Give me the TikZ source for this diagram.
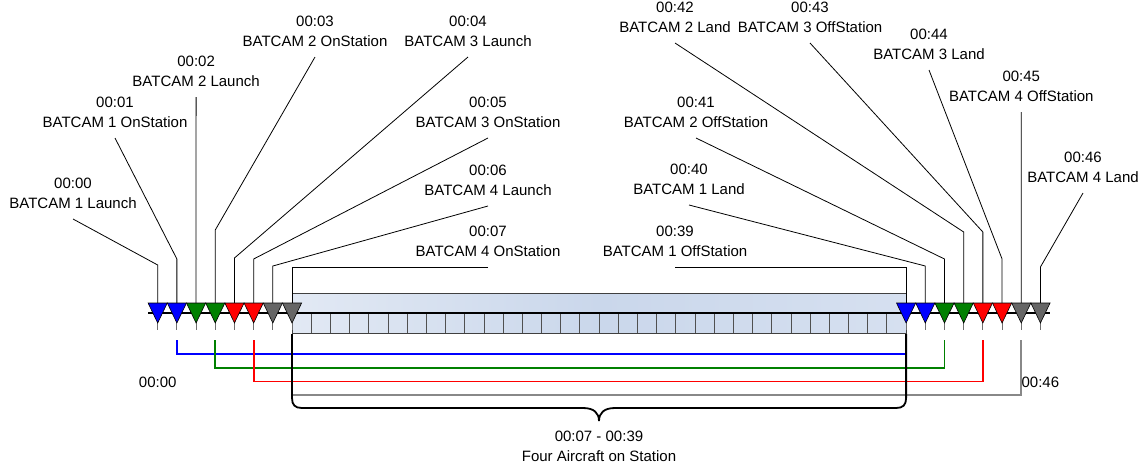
\documentclass[tikz,border=0pt]{standalone}
\usepackage{fontspec}
\setmainfont{Liberation Sans}
\usetikzlibrary{calc}
\definecolor{mblue}{RGB}{0,0,255}
\definecolor{mgreen}{RGB}{0,128,0}
\definecolor{mred}{RGB}{255,0,0}
\definecolor{mgray}{RGB}{102,102,102}
\definecolor{lgray}{RGB}{136,136,136}
\definecolor{tickgray}{RGB}{110,110,110}
\definecolor{barA}{RGB}{226,233,244}
\definecolor{barB}{RGB}{202,215,235}
\definecolor{barC}{RGB}{214,224,240}
\definecolor{cellline}{RGB}{80,80,80}
\begin{document}
\begin{tikzpicture}[x=1pt,y=-1pt,
  lbl/.style={font=\fontsize{15}{19.7}\selectfont, align=center, inner sep=0pt, outer sep=5pt, anchor=south},
  plain/.style={font=\fontsize{15}{19.7}\selectfont, align=center, inner sep=0pt},
  leader/.style={draw=black, line width=0.8pt},
  tickln/.style={draw=tickgray, line width=0.8pt},
  tri/.style={draw=black, line width=0.6pt},
  conn/.style={line width=1.8pt},
  bracestyle/.style={draw=black, line width=1.8pt}]
\useasboundingbox (0,0) rectangle (1144,467);

% marker coordinates (top centre of each triangle)
\foreach \m in {0,1,2,3,4,5,6,7,39,40,41,42,43,44,45,46}{
  \pgfmathsetmacro\xx{157.7+19.19*\m}
  \coordinate (m\m) at (\xx,303);
}

% bar
\shade[left color=barA, right color=barC, middle color=barB] (292,293) rectangle (906.1,333);
\foreach \i in {1,...,31}{
  \draw[draw=cellline, line width=0.8pt] ({292+19.19*\i},313) -- ++(0,20);
}
\draw[draw=black!75, line width=0.8pt] (292,293) rectangle (906.1,333);

% labels
\node[lbl] (l0) at (73,219) {00:00\\BATCAM 1 Launch\strut};
\node[lbl] (l1) at (115,138) {00:01\\BATCAM 1 OnStation\strut};
\node[lbl] (l2) at (196.1,97) {00:02\\BATCAM 2 Launch\strut};
\node[lbl] (l3) at (315,57) {00:03\\BATCAM 2 OnStation\strut};
\node[lbl] (l4) at (468,57) {00:04\\BATCAM 3 Launch\strut};
\node[lbl] (l5) at (488,138) {00:05\\BATCAM 3 OnStation\strut};
\node[lbl] (l6) at (488,206) {00:06\\BATCAM 4 Launch\strut};
\node[lbl] (l7) at (488,267) {00:07\\BATCAM 4 OnStation\strut};
\node[lbl] (l39) at (675,267) {00:39\\BATCAM 1 OffStation\strut};
\node[lbl] (l40) at (689,205) {00:40\\BATCAM 1 Land\strut};
\node[lbl] (l41) at (696,138) {00:41\\BATCAM 2 OffStation\strut};
\node[lbl] (l42) at (675,43) {00:42\\BATCAM 2 Land\strut};
\node[lbl] (l43) at (810,43) {00:43\\BATCAM 3 OffStation\strut};
\node[lbl] (l44) at (929,70) {00:44\\BATCAM 3 Land\strut};
\node[lbl] (l45) at (1021.3,112) {00:45\\BATCAM 4 OffStation\strut};
\node[lbl] (l46) at (1083,193) {00:46\\BATCAM 4 Land\strut};

% leaders
\draw[leader] (l0.south) -- ($(m0)+(0,-38)$) -- (m0);
\draw[leader] (l1.south) -- ($(m1)+(0,-44)$) -- (m1);
\draw[leader] (l2.south) -- (m2);
\draw[leader] (l3.south) -- ($(m3)+(0,-73)$) -- (m3);
\draw[leader] (l4.south) -- ($(m4)+(0,-45)$) -- (m4);
\draw[leader] (l5.south) -- ($(m5)+(0,-44)$) -- (m5);
\draw[leader] (l6.south) -- ($(m6)+(0,-37)$) -- (m6);
\draw[leader] (l7.south) -- ($(m7)+(0,-36)$) -- (m7);
\draw[leader] (l39.south) -- ($(m39)+(0,-36)$) -- (m39);
\draw[leader] (l40.south) -- ($(m40)+(0,-37)$) -- (m40);
\draw[leader] (l41.south) -- ($(m41)+(0,-44)$) -- (m41);
\draw[leader] (l42.south) -- ($(m42)+(0,-71)$) -- (m42);
\draw[leader] (l43.south) -- ($(m43)+(0,-71)$) -- (m43);
\draw[leader] (l44.south) -- ($(m44)+(0,-44)$) -- (m44);
\draw[leader] (l45.south) -- (m45);
\draw[leader] (l46.south) -- ($(m46)+(0,-36)$) -- (m46);

% timeline axis
\draw[line width=2.6pt] ($(m0)+(-9.6,10)$) -- ($(m46)+(9.6,10)$);

% ticks and triangles
\foreach \m/\c in {0/mblue,1/mblue,2/mgreen,3/mgreen,4/mred,5/mred,6/mgray,7/mgray,39/mblue,40/mblue,41/mgreen,42/mgreen,43/mred,44/mred,45/mgray,46/mgray}{
  \draw[tickln] (m\m) -- ++(0,27);
  \filldraw[tri, fill=\c] ($(m\m)+(-9.6,0)$) -- ($(m\m)+(9.6,0)$) -- ($(m\m)+(0,20)$) -- cycle;
}

% aircraft connectors
\draw[conn, draw=mblue] ($(m1)+(0,37)$) |- ($(m39)+(0,51)$) -- ($(m39)+(0,37)$);
\draw[conn, draw=mgreen] ($(m3)+(0,37)$) |- ($(m41)+(0,65)$) -- ($(m41)+(0,37)$);
\draw[conn, draw=mred] ($(m5)+(0,37)$) |- ($(m43)+(0,78.5)$) -- ($(m43)+(0,37)$);
\draw[conn, draw=lgray] ($(m7)+(0,37)$) |- ($(m45)+(0,92)$) -- ($(m45)+(0,37)$);

% brace
\draw[bracestyle] (292,334) -- (292,398) .. controls (292,405) and (295,408) .. (302,408)
  -- (583,408) .. controls (594,408) and (599,413) .. (599,421)
  .. controls (599,413) and (604,408) .. (615,408)
  -- (896,408) .. controls (903,408) and (906.1,405) .. (906.1,398) -- (906.1,334);

% bottom labels
\node[plain] (s0) at (157.7,382) {00:00};
\node[plain] (s46) at (1040.4,382) {00:46};
\node[plain] (bl) at (599,446) {00:07 - 00:39\\Four Aircraft on Station};
\end{tikzpicture}
\end{document}
